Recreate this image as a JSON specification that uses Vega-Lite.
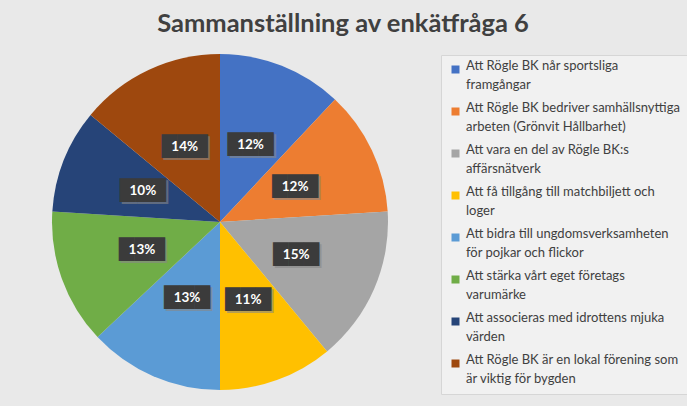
{
  "$schema": "https://vega.github.io/schema/vega-lite/v6.json",
  "width": 336,
  "height": 336,
  "autosize": "none",
  "padding": {"left": 52, "top": 54, "right": 299, "bottom": 16},
  "background": "#e9e9e9",
  "title": {
    "text": "Sammanställning av enkätfråga 6",
    "font": "Lato",
    "fontSize": 25.5,
    "fontWeight": "bold",
    "color": "#404040",
    "anchor": "middle",
    "dx": 123,
    "offset": 17
  },
  "config": {
    "style": {"guide-label": {"lineHeight": 19}}
  },
  "data": {
    "values": [
      {"category": "A", "label": "Att Rögle BK når sportsliga|framgångar", "value": 12, "order": 1, "pct": "12%"},
      {"category": "B", "label": "Att Rögle BK bedriver samhällsnyttiga|arbeten (Grönvit Hållbarhet)", "value": 12, "order": 2, "pct": "12%"},
      {"category": "C", "label": "Att vara en del av Rögle BK:s|affärsnätverk", "value": 15, "order": 3, "pct": "15%"},
      {"category": "D", "label": "Att få tillgång till matchbiljett och|loger", "value": 11, "order": 4, "pct": "11%"},
      {"category": "E", "label": "Att bidra till ungdomsverksamheten|för pojkar och flickor", "value": 13, "order": 5, "pct": "13%"},
      {"category": "F", "label": "Att stärka vårt eget företags|varumärke", "value": 13, "order": 6, "pct": "13%"},
      {"category": "G", "label": "Att associeras med idrottens mjuka|värden", "value": 10, "order": 7, "pct": "10%"},
      {"category": "H", "label": "Att Rögle BK är en lokal förening som|är viktig för bygden", "value": 14, "order": 8, "pct": "14%"}
    ]
  },
  "encoding": {
    "theta": {"field": "value", "type": "quantitative", "stack": true},
    "order": {"field": "order", "type": "quantitative"}
  },
  "layer": [
    {
      "mark": {"type": "arc", "outerRadius": 168, "stroke": null},
      "encoding": {
        "color": {
          "field": "label",
          "type": "nominal",
          "sort": {"field": "order"},
          "scale": {
            "range": ["#4472C4", "#ED7D31", "#A5A5A5", "#FFC000", "#5B9BD5", "#70AD47", "#264478", "#9E480E"]
          },
          "legend": {
            "title": null,
            "orient": "none",
            "legendX": 389,
            "legendY": 1,
            "padding": 8,
            "fillColor": "#f1f1f1",
            "strokeColor": "#d6d6d6",
            "symbolType": "square",
            "symbolSize": 64,
            "symbolStrokeWidth": 0,
            "labelFont": "Lato",
            "labelFontSize": 13,
            "labelColor": "#404040",
            "labelLimit": 300,
            "labelBaseline": "alphabetic",
            "labelOffset": 4,
            "rowPadding": 9,
            "labelExpr": "split(datum.label, '|')",
            "encode": {
              "labels": {"enter": {"lineHeight": {"value": 19}}, "update": {"lineHeight": {"value": 19}, "dy": {"value": 4}}}
            }
          }
        }
      }
    },
    {
      "mark": {"type": "text", "radius": 83, "font": "DejaVu Sans", "fontSize": 20, "color": "#888888", "opacity": 0.6, "dx": 2, "dy": 2, "baseline": "middle"},
      "encoding": {"text": {"value": "███"}}
    },
    {
      "mark": {"type": "text", "radius": 83, "font": "DejaVu Sans", "fontSize": 20, "color": "#3b3b3b", "baseline": "middle"},
      "encoding": {"text": {"value": "███"}}
    },
    {
      "mark": {"type": "text", "radius": 83, "font": "Lato", "fontSize": 13.5, "fontWeight": "bold", "color": "white", "baseline": "middle"},
      "encoding": {"text": {"field": "pct", "type": "nominal"}}
    }
  ]
}
